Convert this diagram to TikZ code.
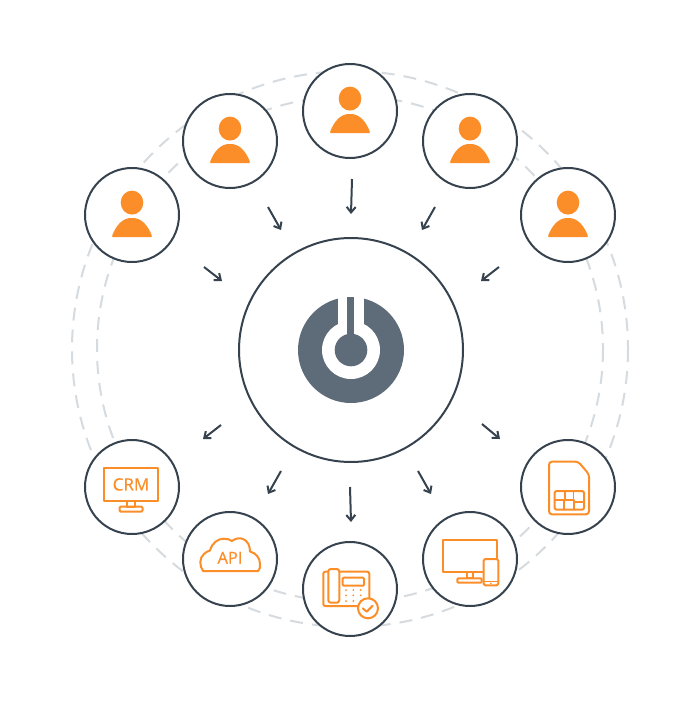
\documentclass[tikz,border=0pt]{standalone}
\usepackage{fontspec}
\setmainfont{Open Sans}
\newfontfamily\labfont[FakeBold=0.6]{Open Sans}
\usetikzlibrary{arrows.meta}
\definecolor{ink}{HTML}{36434F}
\definecolor{logo}{HTML}{5E6C7A}
\definecolor{ora}{HTML}{FB8E28}
\definecolor{ringc}{HTML}{D6DBDF}
\tikzset{
  hub/.style={circle,draw=ink,fill=white,line width=2pt,minimum size=94pt,inner sep=0pt},
  centre/.style={circle,draw=ink,fill=white,line width=2pt,minimum size=224pt,inner sep=0pt},
  ringline/.style={draw=ringc,line width=2pt,dash pattern=on 13pt off 9pt},
  flow/.style={draw=ink,line width=2pt,-{Straight Barb[length=5.5pt,width=9pt,line width=2pt]}},
  ic/.style={draw=ora,line width=2pt,line join=round,line cap=round},
  icthin/.style={draw=ora,line width=1.6pt,line join=round,line cap=round},
  lab/.style={text=ora,inner sep=0pt,font=\labfont\fontsize{#1}{#1}\selectfont}
}
\newcommand{\personicon}[1]{%
  \begin{scope}[shift={(#1)}]
    \fill[ora] (0,-12.4) ellipse (11.3 and 12);
    \fill[ora,rounded corners=1pt] (-20.3,22) .. controls (-16,10) and (-9,3) .. (0,3)
      .. controls (9,3) and (16,10) .. (20.3,22) -- cycle;
  \end{scope}}
\begin{document}
\begin{tikzpicture}[x=1pt,y=-1pt]
\useasboundingbox (0,0) rectangle (700,701);
\fill[white] (0,0) rectangle (700,701);
% dashed rings
\draw[ringline] (350,349) circle (278);
\draw[ringline] (350,349) circle (253);
% centre
\node[centre] (core) at (351,350) {};
\fill[logo] (core.center) circle (53);
\fill[white] (core.center) circle (29);
\fill[white] (338.4,295) rectangle (363.6,330);
\fill[logo] (347.4,296.5) rectangle (354.4,340);
\fill[logo] (core.center) circle (16.3);
% outer nodes
\node[hub] (u1) at (132,215) {};
\node[hub] (u2) at (230,141) {};
\node[hub] (u3) at (350,111) {};
\node[hub] (u4) at (470,141) {};
\node[hub] (u5) at (568,215) {};
\node[hub] (crm) at (132,487) {};
\node[hub] (api) at (230,559) {};
\node[hub] (tel) at (350,589) {};
\node[hub] (dev) at (470,559) {};
\node[hub] (sim) at (568,487) {};
% person icons
\personicon{u1.center}
\personicon{u2.center}
\personicon{u3.center}
\personicon{u4.center}
\personicon{u5.center}
% arrow ends
\coordinate (a1s) at (204,267); \coordinate (a1e) at (222,281);
\coordinate (a2s) at (268,207); \coordinate (a2e) at (281,230);
\coordinate (a3s) at (352,179); \coordinate (a3e) at (351,214);
\coordinate (a4s) at (435,207); \coordinate (a4e) at (422,230);
\coordinate (a5s) at (499,267); \coordinate (a5e) at (481,281);
\coordinate (b1s) at (221,425); \coordinate (b1e) at (203,439);
\coordinate (b2s) at (281,471); \coordinate (b2e) at (268,494);
\coordinate (b3s) at (350,487); \coordinate (b3e) at (351,522);
\coordinate (b4s) at (418,471); \coordinate (b4e) at (431,494);
\coordinate (b5s) at (482,424); \coordinate (b5e) at (500,439);
\foreach \p in {a1,a2,a3,a4,a5,b1,b2,b3,b4,b5}{\draw[flow] (\p s) -- (\p e);}
% CRM icon
\draw[ic] (104,468) rectangle (158.3,500.7);
\draw[ic] (126.7,500.7) rectangle (134.7,506.7);
\draw[ic,rounded corners=1pt] (119.5,506.7) rectangle (142.5,511.5);
\node[lab=17] (crmt) at (131,484.4) {CRM};
% API icon
\draw[ic] (203,571) .. controls (199.5,566) and (199,558) .. (204,554)
  .. controls (206,552) and (208,551) .. (210,550.5)
  .. controls (212,543) and (218,538.5) .. (224,538.7)
  .. controls (227,538.7) and (230,539.5) .. (232,541)
  .. controls (235,538.5) and (240,537.5) .. (243,539)
  .. controls (248,541) and (250,546) .. (250,551.5)
  .. controls (256,553) and (260,558) .. (260,564)
  .. controls (260,567) and (260,570) .. (258,571) -- cycle;
\node[lab=16.5] (apit) at (230,557.8) {API};
% phone icon
\draw[ic,rounded corners=2pt] (323.3,571.7) rectangle (369.3,606);
\draw[ic,fill=white,rounded corners=2.5pt] (328.3,569) rectangle (339.3,602.7);
\draw[ic,rounded corners=1pt] (342.7,577.7) rectangle (364,585.7);
\foreach \dx in {346,353.3,360.7}\foreach \dy in {590,595.3,601}{\fill[ora] (\dx,\dy) circle (1);}
\draw[ic,fill=white] (368,608.3) circle (10);
\draw[ic] (362.7,608.3) -- (366.7,611.7) -- (372.7,605.7);
% monitor icon
\draw[ic] (442.7,540.3) rectangle (496.7,571.7);
\draw[ic] (466.7,571.7) rectangle (472.7,578.3);
\draw[ic,rounded corners=1pt] (457.3,578.3) rectangle (481.7,582.7);
\draw[ic,fill=white,rounded corners=1.5pt] (483.7,559) rectangle (498.3,585.3);
\draw[icthin] (484,581.5) -- (498,581.5);
\fill[ora] (490.9,583.3) circle (0.9);
% SIM icon
\draw[ic,rounded corners=3pt] (549,461.7) -- (578.3,461.7) -- (589,474.3) -- (589,514.3) -- (549,514.3) -- cycle;
\draw[ic,rounded corners=2pt] (554.7,491) rectangle (584,509.7);
\draw[icthin] (554.7,500) -- (574,500) -- (574,502) -- (584,502);
\draw[icthin] (565,491) -- (565,500);
\draw[icthin] (573.5,491) -- (573.5,500);
\draw[icthin] (564,500) -- (564,509.7);
\draw[icthin] (574,502) -- (574,509.7);
\end{tikzpicture}
\end{document}
